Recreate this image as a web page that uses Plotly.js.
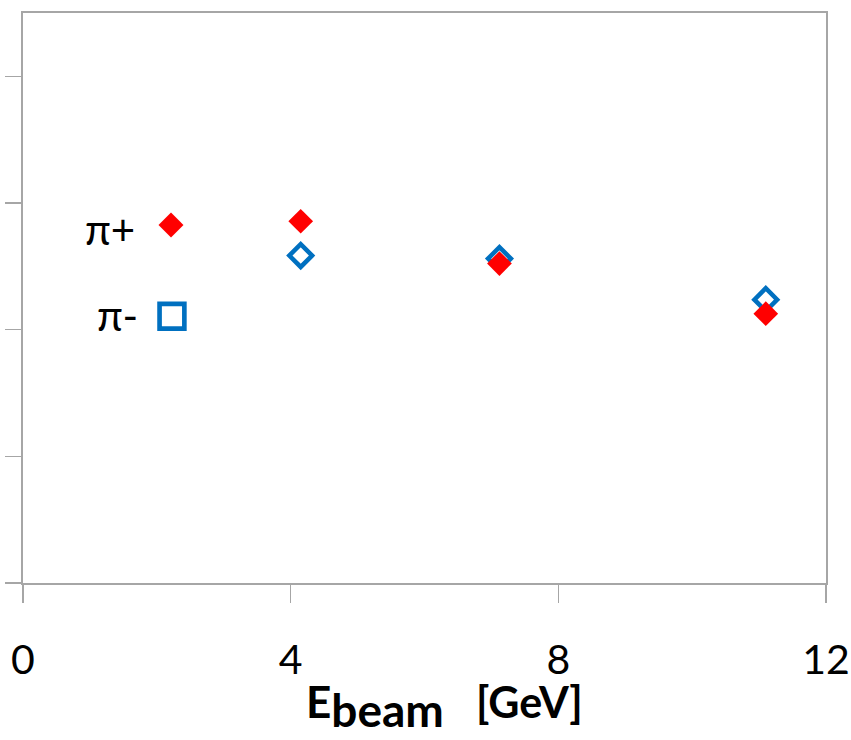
<!DOCTYPE html>
<html>
<head>
<meta charset="utf-8">
<script src="https://cdn.plot.ly/plotly-3.0.1.min.js"></script>
<style>html,body{margin:0;padding:0;background:#fff;}#chart{width:851px;height:740px;}</style>
</head>
<body>
<div id="chart"></div>
<script>
// Beam energies [GeV]
const ebeam = [4.15, 7.12, 11.1];
// pi+ values (arbitrary units, no labels on y axis)
const piPlus = [0.2856, 0.2522, 0.2126];
// pi- values
const piMinus = [0.2585, 0.2561, 0.2237];
// tick labels
const xTickVals = [0, 4, 8, 12];
const xTickText = ['0', '4', '8', '12'];
const yTickVals = [0, 0.1, 0.2, 0.3, 0.4];
// legend labels
const seriesLabels = ['π+', 'π-'];

const FONT = 'Lato, "Open Sans", "DejaVu Sans", sans-serif';
const RED = '#FF0000';
const BLUE = '#0070C0';
const GREY = '#A6A6A6';
const NB = '\u00A0';

const traces = [
  {
    type: 'scatter', mode: 'markers', name: '',
    x: ebeam, y: piMinus, showlegend: false,
    marker: {symbol: 'diamond-open', size: 17.5, color: BLUE, line: {width: 4.5, color: BLUE}}
  },
  {
    type: 'scatter', mode: 'markers', name: '',
    x: ebeam, y: piPlus, legend: 'legend',
    marker: {symbol: 'diamond', size: 19, color: RED, line: {width: 0}}
  },
  {
    type: 'scatter', mode: 'markers', name: '',
    x: [null], y: [null], legend: 'legend2',
    marker: {symbol: 'square-open', size: 16, color: BLUE, line: {width: 3, color: BLUE}}
  }
];

const legendCommon = {
  bgcolor: 'rgba(0,0,0,0)', borderwidth: 0,
  font: {family: FONT, size: 20, color: '#000'},
  xanchor: 'left', yanchor: 'middle'
};

const layout = {
  width: 851, height: 740,
  margin: {l: 23, r: 25, t: 13, b: 157, pad: 0},
  paper_bgcolor: '#fff', plot_bgcolor: '#fff',
  font: {family: FONT, color: '#000'},
  showlegend: true,
  xaxis: {
    range: [0, 12], tickvals: xTickVals, ticktext: xTickText,
    ticks: 'outside', ticklen: 18, tickwidth: 1.5, tickcolor: GREY,
    showline: true, linecolor: GREY, linewidth: 2, mirror: true,
    showgrid: false, zeroline: false,
    tickfont: {family: FONT, size: 41, color: '#000'},
    ticklabelstandoff: 22
  },
  yaxis: {
    range: [0, 0.45], tickvals: yTickVals, showticklabels: false,
    ticks: 'outside', ticklen: 16, tickwidth: 1.5, tickcolor: GREY,
    showline: true, linecolor: GREY, linewidth: 2, mirror: true,
    showgrid: false, zeroline: false
  },
  legend: Object.assign({}, legendCommon, {x: 0.1594, y: 0.628}),
  legend2: Object.assign({}, legendCommon, {x: 0.1606, y: 0.468}),
  annotations: [
    {text: seriesLabels[0], xref: 'paper', yref: 'paper', x: 0.142, y: 0.621,
     xanchor: 'right', yanchor: 'middle', showarrow: false,
     font: {family: FONT, size: 42, color: '#000'}},
    {text: seriesLabels[1], xref: 'paper', yref: 'paper', x: 0.1457, y: 0.470,
     xanchor: 'right', yanchor: 'middle', showarrow: false,
     font: {family: FONT, size: 42, color: '#000'}},
    // x-axis title
    {text: '<b>E<sub><span style="font-size:46px">beam</span></sub>' + NB + NB + NB +
           '<span style="font-size:43px">[GeV]</span></b>',
     xref: 'paper', yref: 'paper', x: 0.3500, y: -0.1580,
     xanchor: 'left', yanchor: 'top', showarrow: false,
     font: {family: FONT, size: 44, color: '#000'}}
  ]
};

Plotly.newPlot('chart', traces, layout, {displayModeBar: false, staticPlot: true}).then(function () {
  // enlarge legend key symbols (Plotly caps legend marker size at 16 px)
  document.querySelectorAll('.legendpoints path.scatterpts').forEach(function (p) {
    const inL2 = !!p.closest('g.legend2');
    const t = p.getAttribute('transform') || '';
    p.setAttribute('transform', t + (inL2 ? ' scale(1.55)' : ' scale(1.2)'));
  });
});
</script>
</body>
</html>
